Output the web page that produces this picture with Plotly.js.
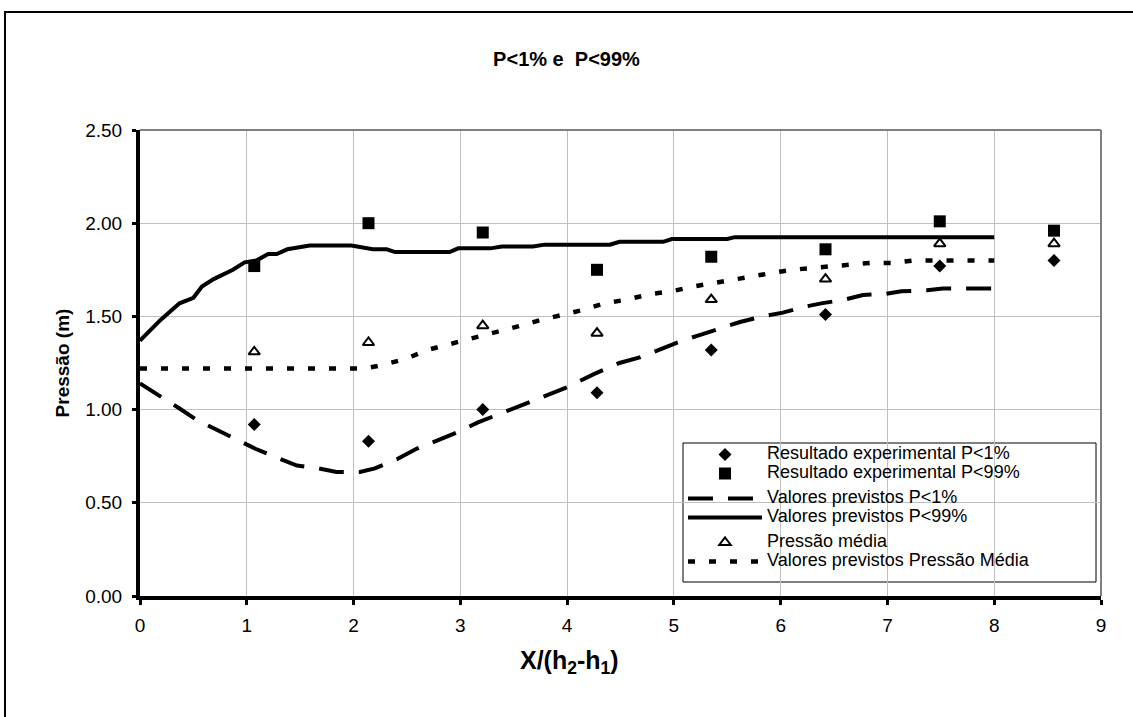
<!DOCTYPE html>
<html>
<head>
<meta charset="utf-8">
<script src="https://cdn.plot.ly/plotly-3.0.1.min.js"></script>
<style>
  html, body { margin:0; padding:0; background:#ffffff; overflow:hidden; }
  #frame { position:absolute; left:4px; top:11px; width:1200px; height:800px; border:2px solid #000; box-sizing:border-box; }
  #chart { position:absolute; left:0; top:0; width:1133px; height:717px; }
</style>
</head>
<body>
<div id="frame"></div>
<div id="chart"></div>
<script>
// Experimental points
const xExp  = [1.07, 2.14, 3.21, 4.28, 5.35, 6.42, 7.49, 8.56];
const pLow  = [0.92, 0.83, 1.00, 1.09, 1.32, 1.51, 1.77, 1.80];
const pHigh = [1.77, 2.00, 1.95, 1.75, 1.82, 1.86, 2.01, 1.96];
const pMean = [1.31, 1.36, 1.45, 1.41, 1.59, 1.70, 1.89, 1.89];

// Predicted P<1%
const lowX = [0, 0.2, 0.36, 0.53, 0.72, 0.94, 1.08, 1.29, 1.47, 1.67, 1.84, 2.06, 2.2, 2.41, 2.59, 2.81, 2.98, 3.16, 3.34, 3.46, 3.7, 4.0, 4.25, 4.49, 4.68, 4.87, 5.08, 5.24, 5.46, 5.62, 5.83, 6.02, 6.21, 6.38, 6.6, 6.77, 6.98, 7.13, 7.37, 7.52, 8.0];
const lowY = [1.14, 1.07, 1.01, 0.945, 0.89, 0.83, 0.79, 0.74, 0.70, 0.685, 0.665, 0.665, 0.685, 0.735, 0.79, 0.84, 0.88, 0.93, 0.97, 1.00, 1.05, 1.12, 1.19, 1.25, 1.28, 1.325, 1.37, 1.40, 1.44, 1.47, 1.50, 1.52, 1.55, 1.57, 1.59, 1.615, 1.62, 1.635, 1.64, 1.65, 1.65];

// Predicted P<99%
const highX = [0, 0.19, 0.37, 0.5, 0.58, 0.69, 0.87, 0.98, 1.09, 1.2, 1.28, 1.38, 1.59, 1.98, 2.18, 2.31, 2.39, 2.9, 2.98, 3.28, 3.39, 3.68, 3.79, 4.4, 4.49, 4.9, 4.98, 5.5, 5.57, 8.0];
const highY = [1.37, 1.48, 1.57, 1.60, 1.66, 1.70, 1.75, 1.79, 1.80, 1.835, 1.835, 1.86, 1.88, 1.88, 1.86, 1.86, 1.845, 1.845, 1.865, 1.865, 1.875, 1.875, 1.885, 1.885, 1.90, 1.90, 1.915, 1.915, 1.925, 1.925];

// Predicted mean pressure
const meanX = [0, 2.1, 2.28, 2.5, 2.69, 2.9, 3.14, 3.31, 3.53, 3.75, 3.93, 4.15, 4.35, 4.56, 4.78, 4.98, 5.18, 5.38, 5.59, 5.79, 5.99, 6.2, 6.41, 6.62, 6.84, 7.05, 7.24, 8.0];
const meanY = [1.22, 1.22, 1.24, 1.275, 1.32, 1.35, 1.385, 1.41, 1.445, 1.48, 1.505, 1.535, 1.57, 1.59, 1.62, 1.635, 1.66, 1.68, 1.70, 1.725, 1.74, 1.755, 1.767, 1.78, 1.787, 1.787, 1.80, 1.80];

const seriesNames = [
  'Resultado experimental P<1%',
  'Resultado experimental P<99%',
  'Valores previstos P<1%',
  'Valores previstos P<99%',
  'Pressão média',
  'Valores previstos Pressão Média'
];

const xTicks = [0,1,2,3,4,5,6,7,8,9];
const yTicks = [0, 0.5, 1.0, 1.5, 2.0, 2.5];

const FONT = 'Liberation Sans, Arial, Helvetica, sans-serif';
const big = s => '<span style="font-size:18px">' + s.replace(/</g, '&lt;') + '</span>';

const traces = [
  { x: xExp, y: pLow, mode: 'markers', name: big(seriesNames[0]), legendgroup: 'a',
    marker: { symbol: 'diamond', size: 10, color: '#000' } },
  { x: xExp, y: pHigh, mode: 'markers', name: big(seriesNames[1]), legendgroup: 'a',
    marker: { symbol: 'square', size: 12, color: '#000' } },
  { x: lowX, y: lowY, mode: 'lines', name: big(seriesNames[2]), legendgroup: 'b',
    line: { color: '#000', width: 4, dash: '25px,15px' } },
  { x: highX, y: highY, mode: 'lines', name: big(seriesNames[3]), legendgroup: 'b',
    line: { color: '#000', width: 4 } },
  { x: xExp, y: pMean, mode: 'markers', name: big(seriesNames[4]), legendgroup: 'c',
    marker: { symbol: 'triangle-up-open', size: 10, color: '#000', line: { color: '#000', width: 2 } } },
  { x: meanX, y: meanY, mode: 'lines', name: big(seriesNames[5]), legendgroup: 'c',
    line: { color: '#000', width: 4.5, dash: '7px,14px' } }
];

const pl = 140, pr = 1101, pt = 130, pb = 596;
const px = v => (v - pl) / (pr - pl);
const py = v => (pb - v) / (pb - pt);

const layout = {
  width: 1133, height: 717,
  margin: { l: pl, r: 1133 - pr, t: pt, b: 717 - pb, pad: 0 },
  paper_bgcolor: 'rgba(0,0,0,0)',
  plot_bgcolor: '#ffffff',
  font: { family: FONT, color: '#000', size: 18 },
  showlegend: true,
  title: { text: '<b>P<1% e  P<99%</b>', font: { family: FONT, size: 20, color: '#000' },
           x: 0.5, xref: 'container', xanchor: 'center', y: 1 - 59/717, yref: 'container', yanchor: 'middle' },
  xaxis: {
    range: [0, 9], tickvals: xTicks, ticktext: xTicks.map(String),
    showgrid: true, gridcolor: '#c0c0c0', gridwidth: 1,
    showline: true, linecolor: '#000', linewidth: 4,
    ticks: 'outside', ticklen: 5, tickwidth: 3, tickcolor: '#000',
    ticklabelstandoff: 4,
    zeroline: false,
    tickfont: { family: FONT, size: 19, color: '#000' }
  },
  yaxis: {
    range: [0, 2.5], tickvals: yTicks, ticktext: yTicks.map(v => v.toFixed(2)),
    showgrid: true, gridcolor: '#c0c0c0', gridwidth: 1,
    showline: true, linecolor: '#000', linewidth: 4,
    ticks: 'outside', ticklen: 4, tickwidth: 3, tickcolor: '#000',
    ticklabelstandoff: 6,
    zeroline: false,
    tickfont: { family: FONT, size: 19, color: '#000' },
    title: { text: '<b>Pressão (m)</b>', font: { family: FONT, size: 19, color: '#000' }, standoff: 12 }
  },
  legend: {
    x: px(683), y: py(440), xanchor: 'left', yanchor: 'top',
    bgcolor: 'rgba(0,0,0,0)', borderwidth: 0,
    font: { family: FONT, size: 12, color: '#000' },
    itemwidth: 74, tracegroupgap: 6, traceorder: 'grouped'
  },
  annotations: [
    { text: '<b>X/(h<sub>2</sub>-h<sub>1</sub>)</b>', xref: 'paper', yref: 'paper',
      x: px(569), y: py(662), xanchor: 'center', yanchor: 'middle', showarrow: false,
      font: { family: FONT, size: 25, color: '#000' } }
  ],
  shapes: [
    { type: 'line', xref: 'paper', yref: 'paper', x0: 0, x1: 1, y0: 1, y1: 1, line: { color: '#808080', width: 2 }, layer: 'above' },
    { type: 'line', xref: 'paper', yref: 'paper', x0: 1, x1: 1, y0: 0, y1: 1, line: { color: '#808080', width: 2 }, layer: 'above' },
    { type: 'rect', xref: 'paper', yref: 'paper', x0: px(683), x1: px(1096), y0: py(582), y1: py(443),
      fillcolor: '#ffffff', line: { color: '#000', width: 1 }, layer: 'between' }
  ]
};

Plotly.newPlot('chart', traces, layout, { displayModeBar: false, staticPlot: true });
</script>
</body>
</html>
